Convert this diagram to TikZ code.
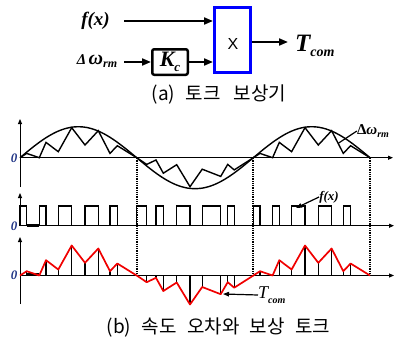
\documentclass[tikz,border=0pt]{standalone}
\usepackage{fontspec}
\setmainfont{Liberation Serif}
\newfontfamily\kofont{Noto Sans CJK KR}
\newfontfamily\xsans{Liberation Sans}
\usetikzlibrary{arrows.meta}
\definecolor{zcol}{RGB}{35,55,135}
\definecolor{boxblue}{RGB}{0,0,255}
\definecolor{wred}{RGB}{240,0,0}
\tikzset{
  humpA/.pic={\draw[pic actions] (0,0)--(6.7,-4.3)--(19.3,0)--(26,-15.3)--(38.3,-6)--(51.7,-30)--(65,-12.7)--(78.3,-27)--(90,-4.3)--(97.3,-12)--(116.7,0);},
  humpB/.pic={\draw[pic actions] (0,0)--(10,6.7)--(19.3,2.3)--(26.6,15.5)--(40,7)--(53.3,29)--(65.5,11.5)--(84,18.7)--(91,6.7)--(97.5,12.2)--(116.7,0);},
  stemsA/.pic={\foreach \x/\h in {6.7/4.3,26/15.3,38.3/6,51.7/30,65/12.7,78.3/27,90/4.3,97.3/12}{\draw[pic actions] (\x,0)--(\x,-\h);}},
  stemsB/.pic={\foreach \x/\h in {10/6.7,19.3/2.3,26.6/15.5,40/7,53.3/29,65.5/11.5,84/18.7,91/6.7,97.5/12.2}{\draw[pic actions] (\x,0)--(\x,\h);}},
  pulsesA/.pic={\draw[pic actions] (0,0)--(0,-19.7)--(6.7,-19.7)--(6.7,0)--(19.3,0)--(19.3,-19.7)--(26,-19.7)--(26,0)--(38.3,0)--(38.3,-19.7)--(51.7,-19.7)--(51.7,0)--(65,0)--(65,-19.7)--(78.3,-19.7)--(78.3,0)--(90,0)--(90,-19.7)--(97.3,-19.7)--(97.3,0)--(116.7,0);},
  pulsesB/.pic={\draw[pic actions] (0,0)--(0,-19.7)--(10,-19.7)--(10,0)--(19.3,0)--(19.3,-19.7)--(26.6,-19.7)--(26.6,0)--(40,0)--(40,-19.7)--(53.3,-19.7)--(53.3,0)--(65.5,0)--(65.5,-19.7)--(84,-19.7)--(84,0)--(91,0)--(91,-19.7)--(97.5,-19.7)--(97.5,0)--(116.7,0);}
}
\begin{document}
\begin{tikzpicture}[x=1pt,y=-1pt,
  wire/.style={line width=2pt,-{Triangle[length=9pt,width=7pt]}},
  axis/.style={line width=1pt,-{Triangle[length=5pt,width=4pt]}},
  wave/.style={line width=1.4pt,black,line join=miter},
  redwave/.style={line width=1.7pt,wred,line join=round},
  stem/.style={line width=1.2pt,black},
  guide/.style={line width=1.7pt,dash pattern=on 1pt off 0.8pt},
  zero/.style={font=\bfseries\itshape\fontsize{13}{13}\selectfont,text=zcol,inner sep=0pt},
  lab/.style={font=\bfseries\itshape,inner sep=0pt},
  captext/.style={font=\kofont\fontsize{19}{19}\selectfont,inner sep=0pt},
  lead/.style={line width=1.2pt,-{Triangle[length=6pt,width=4.5pt]}}
]
\useasboundingbox (0,0) rectangle (395,340);
% ---------- (a) block diagram ----------
\node[draw=boxblue,line width=3pt,minimum width=36pt,minimum height=65pt,inner sep=0pt] (mul) at (232.5,40) {};
\node[font=\xsans\fontsize{16}{16}\selectfont,inner sep=0pt] (xlab) at (233,44) {X};
\node[draw,line width=2.5pt,rounded corners=2pt,minimum width=35.5pt,minimum height=25.5pt,inner sep=0pt] (kc) at (170,62) {\bfseries\itshape\fontsize{22}{22}\selectfont K\raisebox{-0.25em}{\fontsize{13}{13}\selectfont c}};
\node[lab,font=\bfseries\itshape\fontsize{19}{19}\selectfont] (fx) at (95.5,21) {f(x)};
\node[lab,font=\bfseries\itshape\fontsize{15}{15}\selectfont] (dw) at (97,61) {Δ\,{\fontsize{20}{20}\selectfont ω}\raisebox{-0.25em}{\fontsize{12}{12}\selectfont rm}};
\node[lab,font=\bfseries\itshape\fontsize{25}{25}\selectfont,anchor=west] (tc) at (295,46) {T\raisebox{-0.2em}{\fontsize{14}{14}\selectfont com}};
\coordinate (fxs) at (124,21);
\coordinate (dws) at (124,62);
\coordinate (outs) at (252,42);
\coordinate (oute) at (288,42);
\draw[wire] (fxs) -- (fxs -| mul.west);
\draw[wire] (dws) -- (kc.west);
\draw[wire] (kc.east) -- (kc.east -| mul.west);
\draw[wire] (outs) -- (oute);
\node[captext] (capa) at (219,95) {(a)\hspace{0.55em}토크\hspace{0.7em}보상기};
% ---------- (b) waveforms ----------
\coordinate (g1t) at (136.7,157.7); \coordinate (g1b) at (136.7,275.5);
\coordinate (g2t) at (253.3,157.7); \coordinate (g2b) at (253.3,275.5);
\coordinate (g3t) at (370,157.7); \coordinate (g3b) at (370,275.5);
\draw[guide] (g1t) -- (g1b);
\draw[guide] (g2t) -- (g2b);
\draw[guide] (g3t) -- (g3b);
% panel 1
\coordinate (o1) at (20,157.7);
\draw[axis] (20,187) -- (20,119);
\draw[axis] (o1) -- (393,157.7);
\draw[wave,smooth] plot[domain=20:370,samples=80] (\x,{157.7-31*sin((\x-20)/116.67*180)});
\pic[wave] at (20,157.7) {humpA};
\pic[wave] at (136.7,157.7) {humpB};
\pic[wave] at (253.3,157.7) {humpA};
\node[zero] (z1) at (14,158) {0};
\node[lab,font=\bfseries\fontsize{15}{15}\selectfont] (dwl) at (373,131) {Δ\textit{ω}\raisebox{-0.25em}{\itshape\fontsize{10}{10}\selectfont rm}};
\coordinate (dwp) at (338,143.5);
\draw[line width=1.2pt] (dwl.west) -- (dwp);
% panel 2
\draw[axis] (20,226) -- (20,193);
\draw[axis] (20,225.7) -- (394,225.7);
\pic[stem,line width=1.4pt] at (20,225.7) {pulsesA};
\draw[line width=3pt] (26.7,225) -- (39.3,225);
\pic[stem,line width=1.4pt] at (136.7,225.7) {pulsesB};
\pic[stem,line width=1.4pt] at (253.3,225.7) {pulsesA};
\node[zero] (z2) at (14,226) {0};
\node[lab,font=\bfseries\itshape\fontsize{13}{13}\selectfont] (fxl) at (329,197) {f(x)};
\coordinate (fxp) at (296,208);
\draw[lead] (fxl.west) -- (fxp);
% panel 3
\draw[axis] (20,304) -- (20,237);
\draw[axis] (20,275.5) -- (394,275.5);
\pic[stem] at (20,275.5) {stemsA};
\draw[line width=2pt] (26.7,273.5) -- (39.3,273.5);
\pic[stem] at (136.7,275.5) {stemsB};
\pic[stem] at (253.3,275.5) {stemsA};
\pic[redwave] at (20,275.5) {humpA};
\pic[redwave] at (136.7,275.5) {humpB};
\pic[redwave] at (253.3,275.5) {humpA};
\node[zero] (z3) at (14,275.5) {0};
\node[lab,font=\itshape\fontsize{18}{18}\selectfont,anchor=west] (tcl) at (258,295) {T\raisebox{-0.3em}{\bfseries\fontsize{10}{10}\selectfont com}};
\coordinate (tcp) at (223,294);
\draw[lead] (tcl.west) -- (tcp);
\node[captext] (capb) at (218.5,327) {(b)\hspace{0.55em}속도\hspace{0.55em}오차와\hspace{0.55em}보상\hspace{0.55em}토크};
\end{tikzpicture}
\end{document}
